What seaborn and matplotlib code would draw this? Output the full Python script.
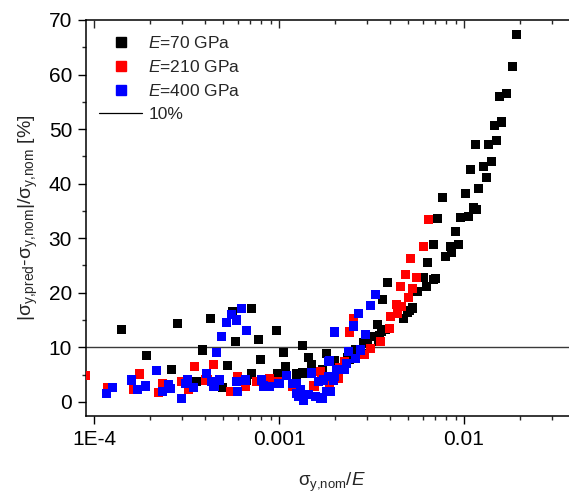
import numpy as np
import pandas as pd
import matplotlib
matplotlib.use("Agg")
import matplotlib.pyplot as plt
from matplotlib.lines import Line2D
from matplotlib.ticker import FixedLocator, FuncFormatter, MultipleLocator, LogLocator, NullFormatter
import seaborn as sns

# ---- data ----
x70 = [0.0193, 0.0182, 0.0170, 0.0155, 0.0160, 0.01453, 0.01503, 0.0136, 0.01156, 0.0141,
       0.0128, 0.0108, 0.0133, 0.0120, 0.0102, 0.00767, 0.00720, 0.00955, 0.01064, 0.01122,
       0.0117, 0.00898, 0.00680, 0.00935, 0.0085, 0.00855, 0.00792, 0.00636, 0.00602, 0.0070,
       0.00685, 0.00628, 0.00564, 0.00384, 0.00362, 0.00527, 0.0051, 0.00495, 0.00470, 0.0034,
       0.00378, 0.0036, 0.0035, 0.0033, 0.00345, 0.00302, 0.00258, 0.00134, 0.00145, 0.0018,
       0.0020, 0.00149, 0.00172, 0.00134, 0.0024, 0.0028, 0.000712, 0.00056, 0.000424, 0.000967,
       0.000777, 0.00058, 0.000387, 0.00106, 0.00079, 0.00053, 0.00108, 0.00071, 0.00098, 0.00125,
       0.000497, 0.00067, 0.000141, 0.000283, 0.000193, 0.000264, 0.000359, 0.00135, 0.00235,
       0.00285, 0.00300]
y70 = [67.3, 61.4, 56.5, 55.9, 51.3, 50.6, 47.9, 47.2, 47.1, 44.0,
       43.2, 42.6, 41.2, 39.1, 38.2, 37.5, 33.6, 33.8, 34.0, 35.7,
       35.3, 31.3, 28.9, 28.9, 28.5, 27.3, 26.6, 25.6, 22.8, 22.6,
       22.5, 21.2, 20.2, 21.8, 18.7, 17.2, 16.7, 16.4, 15.3, 14.1,
       13.3, 12.9, 12.1, 12.0, 11.0, 10.7, 9.5, 10.3, 8.2, 8.8,
       7.5, 6.8, 6.0, 5.4, 7.7, 8.8, 17.1, 16.5, 15.3, 13.1,
       11.5, 11.1, 9.5, 9.1, 7.8, 6.6, 6.4, 5.1, 5.1, 5.1,
       2.7, 3.9, 13.3, 14.4, 8.5, 5.9, 3.8, 5.2, 8.2,
       10.9, 11.4]

x210 = [0.00642, 0.00602, 0.00513, 0.00482, 0.00555, 0.00453, 0.00530, 0.00500, 0.00429, 0.0046,
        0.0040, 0.00435, 0.00394, 0.00254, 0.00240, 0.00354, 0.00314, 0.0029, 0.00227, 0.00213,
        0.00167, 0.0021, 0.00187, 0.00154, 0.000442, 0.0006, 0.00066, 0.00055, 0.00089, 0.0010,
        0.00156, 0.00170, 0.000403, 0.00076, 0.000176, 0.000351, 0.000119, 0.000163, 0.000223, 0.000235,
        0.000298, 0.000324, 0.0000895, 0.00041, 0.00119]
y210 = [33.4, 28.5, 26.3, 23.3, 22.8, 21.1, 20.7, 19.2, 17.8, 17.5,
        15.6, 16.2, 13.5, 15.3, 12.8, 11.0, 9.8, 8.6, 7.4, 6.2,
        5.5, 4.3, 3.5, 3.0, 6.8, 4.6, 2.8, 1.9, 4.3, 3.7,
        2.9, 4.3, 4.0, 3.7, 5.1, 6.4, 2.7, 2.3, 1.7, 3.3,
        3.7, 2.3, 4.8, 4.0, 2.8]

x400 = [0.000629, 0.000555, 0.000521, 0.000590, 0.00067, 0.00049, 0.000460, 0.000407, 0.000433, 0.000476,
        0.00044, 0.00059, 0.000595, 0.00066, 0.0008, 0.00089, 0.0010, 0.0011, 0.00119, 0.00125,
        0.00135, 0.00144, 0.00157, 0.00168, 0.0018, 0.0015, 0.00164, 0.00185, 0.00082, 0.000117,
        0.000126, 0.000160, 0.000172, 0.000190, 0.000218, 0.000235, 0.000252, 0.000258, 0.000298, 0.000319,
        0.000312, 0.000347, 0.000448, 0.00334, 0.00313, 0.00268, 0.00253, 0.0020, 0.00295, 0.00277,
        0.00237, 0.00260, 0.00188, 0.00232, 0.00225, 0.00205, 0.00150, 0.00185, 0.00196, 0.00173,
        0.00190, 0.00172, 0.00135, 0.00128, 0.00124, 0.00130, 0.00200]
y400 = [17.1, 16.0, 14.6, 15.0, 13.1, 12.0, 9.0, 5.2, 3.7, 4.0,
        2.8, 3.7, 1.9, 4.0, 4.0, 2.8, 3.4, 4.9, 3.4, 1.6,
        0.7, 1.3, 1.0, 0.7, 1.9, 5.2, 3.7, 7.4, 2.9, 1.5,
        2.7, 4.0, 2.3, 2.9, 5.7, 1.9, 3.1, 2.4, 0.6, 4.0,
        3.3, 2.6, 2.8, 19.6, 17.6, 16.2, 13.9, 12.8, 12.3, 9.5,
        9.3, 8.0, 7.6, 7.1, 5.9, 5.9, 5.4, 4.6, 4.0, 4.0,
        1.9, 0.7, 0.2, 1.0, 3.4, 2.2, 4.6]

series_labels = ["70", "210", "400"]
threshold = 10

# ---- style ----
sns.set_style("ticks")
plt.rcParams['font.family'] = ['Liberation Sans', 'DejaVu Sans']
plt.rcParams['mathtext.fontset'] = 'custom'
plt.rcParams['mathtext.rm'] = 'Liberation Sans'
plt.rcParams['mathtext.it'] = 'Liberation Sans:italic'
plt.rcParams['mathtext.bf'] = 'Liberation Sans:bold'

df = pd.concat([
    pd.DataFrame({"x": x70, "y": y70, "E": "70"}),
    pd.DataFrame({"x": x210, "y": y210, "E": "210"}),
    pd.DataFrame({"x": x400, "y": y400, "E": "400"}),
], ignore_index=True)

palette = {"70": "#000000", "210": "#ff0000", "400": "#0000ff"}

fig = plt.figure(figsize=(5.69, 4.93), dpi=100)
W, H = 569, 493
left_px, right_px, top_px, bot_px = 86, 578, 20, 416
ax = fig.add_axes([left_px / W, 1 - bot_px / H, (right_px - left_px) / W, (bot_px - top_px) / H])

ax.axhline(threshold, color="#3a3a3a", lw=1.0, zorder=1)

sns.scatterplot(data=df, x="x", y="y", hue="E", palette=palette, marker="s",
                s=42, linewidth=0, legend=False, ax=ax, zorder=3)

ax.set_xscale("log")
x_lo = 10 ** (-4 + (left_px - 94) / 185)
x_hi = 10 ** (-4 + (right_px - 94) / 185)
ax.set_xlim(x_lo, x_hi)
ax.set_ylim(-2.6, 70)

ax.xaxis.set_major_locator(FixedLocator([1e-4, 1e-3, 1e-2]))
ax.xaxis.set_major_formatter(FuncFormatter(lambda v, p: {1e-4: "1E-4", 1e-3: "0.001", 1e-2: "0.01"}.get(v, "")))
ax.xaxis.set_minor_locator(LogLocator(base=10, subs=np.arange(2, 10), numticks=20))
ax.xaxis.set_minor_formatter(NullFormatter())
ax.yaxis.set_major_locator(MultipleLocator(10))
ax.yaxis.set_minor_locator(MultipleLocator(5))

for s in ["left", "bottom", "top"]:
    ax.spines[s].set_linewidth(1.1)
    ax.spines[s].set_color("black")
ax.spines["right"].set_visible(False)

ax.tick_params(axis="both", which="major", direction="out", length=6, width=1, labelsize=15,
               colors="black", pad=4)
ax.tick_params(axis="both", which="minor", direction="out", length=3, width=1)
ax.tick_params(axis="x", which="both", top=False)

# top mirrored ticks pointing inward
ax2 = ax.twiny()
ax2.set_xscale("log")
ax2.set_xlim(ax.get_xlim())
ax2.xaxis.set_major_locator(FixedLocator([1e-4, 1e-3, 1e-2]))
ax2.xaxis.set_minor_locator(LogLocator(base=10, subs=np.arange(2, 10), numticks=20))
ax2.xaxis.set_minor_formatter(NullFormatter())
ax2.tick_params(axis="x", which="major", direction="in", length=6, width=1, labeltop=False)
ax2.tick_params(axis="x", which="minor", direction="in", length=3, width=1)
for s in ["left", "bottom", "right", "top"]:
    ax2.spines[s].set_visible(False)
ax2.yaxis.set_visible(False)

ax.set_xlabel(r"σ$_\mathregular{y{,}nom}$/$\mathit{E}$", fontsize=13.5, labelpad=16)
ax.set_ylabel(r"|σ$_\mathregular{y{,}pred}$-σ$_\mathregular{y{,}nom}$|/σ$_\mathregular{y{,}nom}$ [%]",
              fontsize=14, labelpad=6)

handles = [Line2D([], [], marker="s", color=palette[k], linestyle="none", markersize=6.5) for k in series_labels]
handles.append(Line2D([], [], color="black", lw=0.9))
labels = [r"$\mathit{E}$=%s GPa" % k for k in series_labels] + ["10%"]
fig.legend(handles, labels, loc="upper left", bbox_to_anchor=(99 / W, 1 - 35 / H), frameon=False,
           fontsize=12.5, handlelength=2.5, labelspacing=0.45, borderaxespad=0, borderpad=0,
           handletextpad=0.35)

fig.savefig("out.png", dpi=100)
